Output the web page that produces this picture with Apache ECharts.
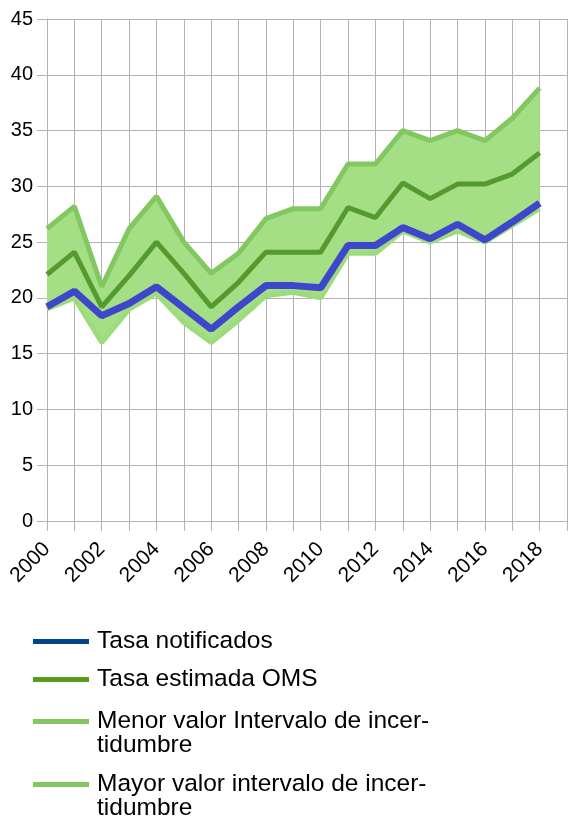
<!DOCTYPE html>
<html>
<head>
<meta charset="utf-8">
<script src="https://cdn.jsdelivr.net/npm/echarts@6/dist/echarts.min.js"></script>
<style>
  html, body { margin: 0; padding: 0; background: #fff; }
  #chart { width: 568px; height: 818px; }
</style>
</head>
<body>
<div id="chart"></div>
<script>
// años (el último solo cierra la cuadrícula)
var years = ['2000','2001','2002','2003','2004','2005','2006','2007','2008','2009',
             '2010','2011','2012','2013','2014','2015','2016','2017','2018','2019'];
var notificados = [19.2, 20.6, 18.4, 19.5, 21.0, 19.1, 17.2, 19.2, 21.1, 21.1,
                   20.9, 24.7, 24.7, 26.3, 25.3, 26.6, 25.2, 26.8, 28.5];
var estimadaOMS = [22.1, 24.1, 19.2, 22.0, 25.0, 22.2, 19.2, 21.4, 24.1, 24.1,
                   24.1, 28.1, 27.2, 30.3, 28.9, 30.2, 30.2, 31.1, 33.0];
var menorValor = [19.0, 20.0, 16.0, 19.0, 20.4, 17.8, 16.0, 18.0, 20.2, 20.5,
                  20.0, 24.0, 24.0, 26.0, 25.0, 26.0, 25.0, 26.5, 28.0];
var mayorValor = [26.2, 28.2, 21.0, 26.2, 29.1, 25.0, 22.2, 24.0, 27.1, 28.0,
                  28.0, 32.0, 32.0, 35.0, 34.1, 35.0, 34.1, 36.1, 38.8];
var yTicks = [0, 45, 5]; // min, max, intervalo

var names = ['Tasa notificados', 'Tasa estimada OMS',
             'Menor valor Intervalo de incertidumbre', 'Mayor valor intervalo de incertidumbre'];
var legendText = {
  'Menor valor Intervalo de incertidumbre': 'Menor valor Intervalo de incer-\ntidumbre',
  'Mayor valor intervalo de incertidumbre': 'Mayor valor intervalo de incer-\ntidumbre'
};

// ancho de la banda = mayor - menor (se apila sobre menor)
var banda = mayorValor.map(function (v, i) { return +(v - menorValor[i]).toFixed(2); });

var font = 'Liberation Sans, Arial, sans-serif';
var gridColor = '#b3b3b3';
var legendFont = { fontFamily: font, fontSize: 24.5, color: '#000', lineHeight: 24, padding: [0, 0, 0, 3] };
// icono alineado con la primera línea de un texto de dos líneas
var iconTop = 'path://M0,9.5L56,9.5L56,14.5L0,14.5Z M0,0 M0,48';

var myChart = echarts.init(document.getElementById('chart'));
myChart.setOption({
  animation: false,
  grid: { left: 47, right: 1, top: 19, bottom: 297, containLabel: false },
  legend: [
    {
      orient: 'vertical', left: 33, top: 629, padding: 0,
      icon: 'rect', itemWidth: 56, itemHeight: 5, itemGap: 13,
      selectedMode: false, textStyle: legendFont,
      data: [
        { name: names[0], itemStyle: { color: '#004586' } },
        { name: names[1], itemStyle: { color: '#579d1c' } }
      ]
    },
    {
      orient: 'vertical', left: 33, top: 709, padding: 0, height: 120,
      icon: iconTop, itemWidth: 56, itemHeight: 48, itemGap: 14,
      selectedMode: false, textStyle: legendFont,
      formatter: function (name) { return legendText[name] || name; },
      data: [
        { name: names[2], itemStyle: { color: '#83c760' } },
        { name: names[3], itemStyle: { color: '#83c760' } }
      ]
    }
  ],
  xAxis: {
    type: 'category',
    boundaryGap: false,
    data: years,
    axisLine: { lineStyle: { color: gridColor, width: 1 } },
    axisTick: { show: true, interval: 0, length: 10, lineStyle: { color: gridColor } },
    splitLine: { show: true, interval: 0, lineStyle: { color: gridColor, width: 1 } },
    axisLabel: { interval: 1, rotate: 45, margin: 25, fontFamily: font, fontSize: 21, color: '#000' }
  },
  yAxis: {
    type: 'value',
    min: yTicks[0],
    max: yTicks[1],
    interval: yTicks[2],
    axisLine: { show: true, lineStyle: { color: gridColor } },
    axisTick: { show: true, length: 10, lineStyle: { color: gridColor } },
    splitLine: { show: true, lineStyle: { color: gridColor, width: 1 } },
    axisLabel: { margin: 14, fontFamily: font, fontSize: 20, color: '#000' }
  },
  series: [
    {
      name: 'base', type: 'line', stack: 'banda', data: menorValor,
      symbol: 'none', lineStyle: { opacity: 0 }, silent: true
    },
    {
      name: 'banda', type: 'line', stack: 'banda', data: banda,
      symbol: 'none', lineStyle: { opacity: 0 }, silent: true,
      areaStyle: { color: '#a5df85', opacity: 1 }
    },
    {
      name: names[2], type: 'line', data: menorValor, symbol: 'none',
      color: '#83c760', lineStyle: { width: 5, color: '#9ddb7c' }
    },
    {
      name: names[3], type: 'line', data: mayorValor, symbol: 'none',
      color: '#83c760', lineStyle: { width: 5, color: '#83c760' }
    },
    {
      name: names[1], type: 'line', data: estimadaOMS, symbol: 'none',
      color: '#579d1c', lineStyle: { width: 5, color: '#559a2e' }
    },
    {
      name: names[0], type: 'line', data: notificados, symbol: 'none',
      color: '#004586', lineStyle: { width: 7, color: '#3e46cc' }
    }
  ]
});
</script>
</body>
</html>
